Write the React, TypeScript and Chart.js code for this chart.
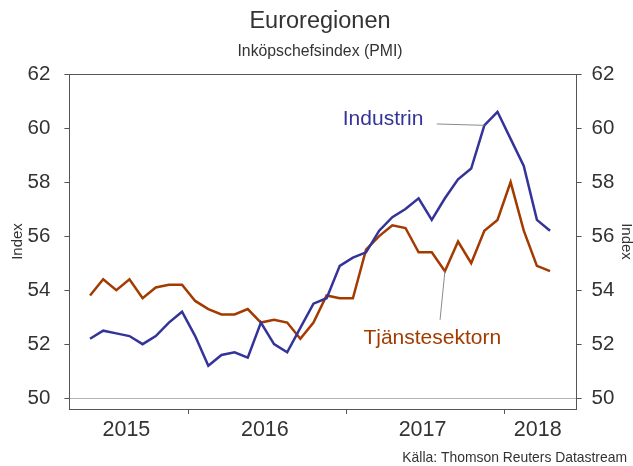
import React, { useEffect, useRef } from 'react';
import { Chart, registerables } from 'chart.js';

Chart.register(...registerables);

// Monthly observations, May 2015 – April 2018
const months = [
  '2015-05', '2015-06', '2015-07', '2015-08', '2015-09', '2015-10', '2015-11', '2015-12',
  '2016-01', '2016-02', '2016-03', '2016-04', '2016-05', '2016-06', '2016-07', '2016-08', '2016-09', '2016-10', '2016-11', '2016-12',
  '2017-01', '2017-02', '2017-03', '2017-04', '2017-05', '2017-06', '2017-07', '2017-08', '2017-09', '2017-10', '2017-11', '2017-12',
  '2018-01', '2018-02', '2018-03', '2018-04',
];
const industrin = [
  52.2, 52.5, 52.4, 52.3, 52.0, 52.3, 52.8, 53.2,
  52.3, 51.2, 51.6, 51.7, 51.5, 52.8, 52.0, 51.7, 52.6, 53.5, 53.7, 54.9,
  55.2, 55.4, 56.2, 56.7, 57.0, 57.4, 56.6, 57.4, 58.1, 58.5, 60.1, 60.6,
  59.6, 58.6, 56.6, 56.2,
];
const tjanstesektorn = [
  53.8, 54.4, 54.0, 54.4, 53.7, 54.1, 54.2, 54.2,
  53.6, 53.3, 53.1, 53.1, 53.3, 52.8, 52.9, 52.8, 52.2, 52.8, 53.8, 53.7,
  53.7, 55.5, 56.0, 56.4, 56.3, 55.4, 55.4, 54.7, 55.8, 55.0, 56.2, 56.6,
  58.0, 56.2, 54.9, 54.7,
];
const yTicks = [50, 52, 54, 56, 58, 60, 62];
const yearLabels = ['2015', '2016', '2017', '2018'];

const FONT = '"Liberation Sans", Arial, sans-serif';
const TEXT = '#333333';
const AXIS = '#555555';
const BLUE = '#333399';
const ORANGE = '#a33b00';

export default function App() {
  const ref = useRef<HTMLCanvasElement | null>(null);

  useEffect(() => {
    const canvas = ref.current;
    if (!canvas) return;

    const xMin = -1.57;
    const xMax = months.length - 1 + 2.02;

    // year boundaries (half a month before each January) and label centres
    const boundaries: number[] = [];
    months.forEach((m, i) => {
      if (m.endsWith('-01')) boundaries.push(i - 0.5);
    });
    const edges = [xMin, ...boundaries, xMax];
    const centers: number[] = [];
    for (let k = 0; k < edges.length - 1; k++) centers.push((edges[k] + edges[k + 1]) / 2 - 0.2);

    const isBoundary = (v: number) => boundaries.some((b) => Math.abs(b - v) < 1e-6);

    const decorations = {
      id: 'decorations',
      afterDraw(chart: any) {
        const { ctx } = chart;
        const xs = chart.scales.x;
        const ys = chart.scales.y;
        ctx.save();
        ctx.fillStyle = TEXT;
        ctx.textAlign = 'center';
        ctx.textBaseline = 'middle';
        ctx.font = `23.5px ${FONT}`;
        ctx.fillText('Euroregionen', 320, 22);
        ctx.font = `15.8px ${FONT}`;
        ctx.fillText('Inköpschefsindex (PMI)', 320, 52);
        ctx.textAlign = 'right';
        ctx.font = `13.9px ${FONT}`;
        ctx.fillText('Källa: Thomson Reuters Datastream', 627, 458);

        // leader lines
        ctx.strokeStyle = '#8a8a8a';
        ctx.lineWidth = 1;
        ctx.beginPath();
        ctx.moveTo(xs.getPixelForValue(26.38), ys.getPixelForValue(60.15));
        ctx.lineTo(xs.getPixelForValue(30), ys.getPixelForValue(industrin[30]));
        ctx.moveTo(xs.getPixelForValue(26.63), ys.getPixelForValue(52.9));
        ctx.lineTo(xs.getPixelForValue(27), ys.getPixelForValue(tjanstesektorn[27]));
        ctx.stroke();

        ctx.textAlign = 'left';
        ctx.font = `21px ${FONT}`;
        ctx.fillStyle = BLUE;
        ctx.fillText('Industrin', xs.getPixelForValue(19.23), ys.getPixelForValue(60.33));
        ctx.fillStyle = ORANGE;
        ctx.fillText('Tjänstesektorn', xs.getPixelForValue(20.8), ys.getPixelForValue(52.22));
        ctx.restore();
      },
    };

    const yTickCb = (v: any) => String(v);

    const chart = new Chart(canvas, {
      type: 'line',
      data: {
        datasets: [
          {
            label: 'Industrin',
            data: industrin.map((v, i) => ({ x: i, y: v })),
            borderColor: BLUE,
            borderWidth: 2.5,
            pointRadius: 0,
            tension: 0,
            yAxisID: 'y',
          },
          {
            label: 'Tjänstesektorn',
            data: tjanstesektorn.map((v, i) => ({ x: i, y: v })),
            borderColor: ORANGE,
            borderWidth: 2.5,
            pointRadius: 0,
            tension: 0,
            yAxisID: 'y',
          },
        ],
      },
      options: {
        responsive: false,
        animation: false,
        layout: { padding: { top: 74, left: 0, right: 0, bottom: 0 } },
        plugins: {
          legend: { display: false },
          title: { display: false },
          tooltip: { enabled: false },
        },
        scales: {
          x: {
            type: 'linear',
            min: xMin,
            max: xMax,
            afterBuildTicks: (s: any) => {
              s.ticks = [...boundaries, ...centers].sort((a, b) => a - b).map((v) => ({ value: v }));
            },
            afterFit: (s: any) => {
              s.height = 57;
            },
            ticks: {
              autoSkip: false,
              maxRotation: 0,
              padding: 3,
              color: TEXT,
              font: { family: FONT, size: 21.5 },
              callback: (v: any) => {
                const idx = centers.findIndex((c) => Math.abs(c - v) < 1e-6);
                return idx >= 0 ? yearLabels[idx] : '';
              },
            },
            grid: {
              drawOnChartArea: false,
              tickLength: 5,
              color: 'rgba(0,0,0,0)',
              tickColor: (c: any) => (isBoundary(c.tick?.value) ? AXIS : 'rgba(0,0,0,0)'),
            },
            border: { display: true, color: AXIS, width: 1 },
          },
          y: {
            position: 'left',
            min: 49.6,
            max: 62,
            afterBuildTicks: (s: any) => {
              s.ticks = yTicks.map((v) => ({ value: v }));
            },
            afterFit: (s: any) => {
              s.width = 69.4;
            },
            ticks: {
              padding: 14,
              color: TEXT,
              font: { family: FONT, size: 20.5 },
              callback: yTickCb,
            },
            grid: {
              drawOnChartArea: true,
              tickLength: 5,
              color: (c: any) =>
                c.tick?.value === 50 ? '#b3b3b3' : c.tick?.value === 62 ? AXIS : 'rgba(0,0,0,0)',
              tickColor: AXIS,
            },
            border: { display: true, color: AXIS, width: 1 },
            title: {
              display: true,
              text: 'Index',
              color: TEXT,
              font: { family: FONT, size: 15 },
              padding: { top: 9, bottom: 0 },
            },
          },
          y2: {
            position: 'right',
            min: 49.6,
            max: 62,
            afterBuildTicks: (s: any) => {
              s.ticks = yTicks.map((v) => ({ value: v }));
            },
            afterFit: (s: any) => {
              s.width = 56.4;
            },
            ticks: {
              padding: 10,
              color: TEXT,
              font: { family: FONT, size: 20.5 },
              callback: yTickCb,
            },
            grid: {
              drawOnChartArea: false,
              tickLength: 5,
              color: AXIS,
              tickColor: AXIS,
            },
            border: { display: true, color: AXIS, width: 1 },
            title: {
              display: true,
              text: 'Index',
              color: TEXT,
              font: { family: FONT, size: 15 },
              padding: { top: -2, bottom: 0 },
            },
          },
        },
      },
      plugins: [decorations],
    } as any);

    return () => chart.destroy();
  }, []);

  return (
    <div style={{ position: 'fixed', left: 0, top: 0, width: 633, height: 466, background: '#fff' }}>
      <canvas ref={ref} width={633} height={466} style={{ display: 'block', width: 633, height: 466 }} />
    </div>
  );
}
